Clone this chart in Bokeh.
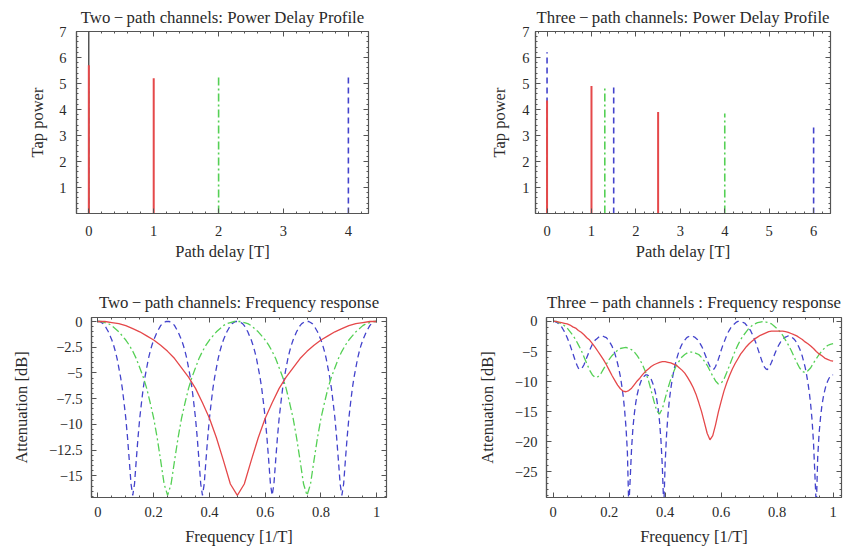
import numpy as np
from bokeh.plotting import figure
from bokeh.layouts import column, row
from bokeh.models import FixedTicker, LinearAxis, Range1d, Span, CustomJSTickFormatter
from bokeh.embed import file_html
from bokeh.resources import INLINE

# ---------------- data ----------------
# Power delay profiles (tap delay [T], tap power)
pdp2_red_delay = [0, 1]
pdp2_red_power = [5.7, 5.2]
pdp2_green_delay = [0, 2]
pdp2_green_power = [5.3, 5.3]
pdp2_blue_delay = [0, 4]
pdp2_blue_power = [4.7, 5.3]

pdp3_red_delay = [0, 1, 2.5]
pdp3_red_power = [4.35, 4.9, 3.9]
pdp3_green_delay = [0, 1.3, 4]
pdp3_green_power = [3.1, 4.9, 3.85]
pdp3_blue_delay = [0, 1.5, 6]
pdp3_blue_power = [6.2, 4.85, 3.4]

# Two-path frequency responses [dB]
freq2_red = np.linspace(0, 1, 41)
att2_red = [0.0, 0.0, -0.1, -0.2, -0.4, -0.7, -1.0, -1.4, -1.8, -2.3, -2.9, -3.6, -4.5, -5.4, -6.5, -7.9, -9.4, -11.3, -13.5, -15.8, -16.9,
            -15.8, -13.5, -11.3, -9.4, -7.9, -6.5, -5.4, -4.5, -3.6, -2.9, -2.3, -1.8, -1.4, -1.0, -0.7, -0.4, -0.2, -0.1, 0.0, 0.0]
freq2_green = np.linspace(0, 1, 81)
att2_green = [0.0, 0.0, -0.1, -0.2, -0.4, -0.7, -1.0, -1.4, -1.8, -2.3, -2.9, -3.6, -4.5, -5.4, -6.5, -7.9, -9.4, -11.3, -13.5, -15.8, -16.9,
              -15.8, -13.5, -11.3, -9.4, -7.9, -6.5, -5.4, -4.5, -3.6, -2.9, -2.3, -1.8, -1.4, -1.0, -0.7, -0.4, -0.2, -0.1, 0.0, 0.0,
              0.0, -0.1, -0.2, -0.4, -0.7, -1.0, -1.4, -1.8, -2.3, -2.9, -3.6, -4.5, -5.4, -6.5, -7.9, -9.4, -11.3, -13.5, -15.8, -16.9,
              -15.8, -13.5, -11.3, -9.4, -7.9, -6.5, -5.4, -4.5, -3.6, -2.9, -2.3, -1.8, -1.4, -1.0, -0.7, -0.4, -0.2, -0.1, 0.0, 0.0]
freq2_blue = np.linspace(0, 1, 161)
att2_blue = [0.0, 0.0, -0.1, -0.2, -0.4, -0.7, -1.0, -1.4, -1.8, -2.3, -2.9, -3.6, -4.5, -5.4, -6.5, -7.9, -9.4, -11.3, -13.5, -15.8, -16.9,
             -15.8, -13.5, -11.3, -9.4, -7.9, -6.5, -5.4, -4.5, -3.6, -2.9, -2.3, -1.8, -1.4, -1.0, -0.7, -0.4, -0.2, -0.1, 0.0, 0.0,
             0.0, -0.1, -0.2, -0.4, -0.7, -1.0, -1.4, -1.8, -2.3, -2.9, -3.6, -4.5, -5.4, -6.5, -7.9, -9.4, -11.3, -13.5, -15.8, -16.9,
             -15.8, -13.5, -11.3, -9.4, -7.9, -6.5, -5.4, -4.5, -3.6, -2.9, -2.3, -1.8, -1.4, -1.0, -0.7, -0.4, -0.2, -0.1, 0.0, 0.0,
             0.0, -0.1, -0.2, -0.4, -0.7, -1.0, -1.4, -1.8, -2.3, -2.9, -3.6, -4.5, -5.4, -6.5, -7.9, -9.4, -11.3, -13.5, -15.8, -16.9,
             -15.8, -13.5, -11.3, -9.4, -7.9, -6.5, -5.4, -4.5, -3.6, -2.9, -2.3, -1.8, -1.4, -1.0, -0.7, -0.4, -0.2, -0.1, 0.0, 0.0,
             0.0, -0.1, -0.2, -0.4, -0.7, -1.0, -1.4, -1.8, -2.3, -2.9, -3.6, -4.5, -5.4, -6.5, -7.9, -9.4, -11.3, -13.5, -15.8, -16.9,
             -15.8, -13.5, -11.3, -9.4, -7.9, -6.5, -5.4, -4.5, -3.6, -2.9, -2.3, -1.8, -1.4, -1.0, -0.7, -0.4, -0.2, -0.1, 0.0, 0.0]

# Three-path frequency responses [dB]
freq3_red = np.linspace(0, 1, 101)
att3_red = [0.0, 0.0, -0.1, -0.2, -0.3, -0.4, -0.6, -0.9, -1.1, -1.5, -1.8, -2.2, -2.7, -3.1, -3.7, -4.3, -5.0, -5.7, -6.4, -7.2, -8.1, -9.0, -9.8, -10.6,
            -11.2, -11.6, -11.7, -11.5, -11.1, -10.5, -9.9, -9.4, -8.8, -8.3, -7.9, -7.5, -7.2, -7.0, -6.8, -6.7, -6.7, -6.8, -6.9, -7.1, -7.3, -7.7, -8.1,
            -8.6, -9.3, -10.1, -11.0, -12.1, -13.5, -15.0, -16.8, -18.6, -19.7, -19.0, -17.2, -15.1, -13.3, -11.6, -10.2, -9.0, -7.9, -7.0, -6.2, -5.4,
            -4.8, -4.2, -3.7, -3.3, -2.9, -2.6, -2.3, -2.1, -1.9, -1.7, -1.6, -1.6, -1.6, -1.6, -1.6, -1.7, -1.8, -2.0, -2.2, -2.4, -2.7, -3.0, -3.4, -3.7,
            -4.1, -4.5, -5.0, -5.4, -5.7, -6.1, -6.3, -6.5, -6.6]
freq3_green = np.linspace(0, 1, 101)
att3_green = [0.0, 0.0, -0.2, -0.4, -0.7, -1.1, -1.7, -2.3, -3.0, -3.9, -4.8, -5.9, -7.0, -8.1, -8.9, -9.3, -9.2, -8.7, -7.9, -7.1, -6.3, -5.7, -5.2, -4.8,
              -4.5, -4.4, -4.3, -4.5, -4.7, -5.1, -5.7, -6.4, -7.3, -8.4, -9.8, -11.5, -13.3, -14.9, -15.4, -14.5, -12.8, -11.1, -9.6, -8.4, -7.3, -6.6, -5.9,
              -5.5, -5.2, -5.1, -5.1, -5.3, -5.5, -6.0, -6.6, -7.3, -8.2, -9.1, -9.9, -10.4, -10.3, -9.6, -8.5, -7.3, -6.1, -4.9, -3.9, -3.0, -2.3, -1.7, -1.1,
              -0.7, -0.4, -0.2, -0.1, 0.0, -0.1, -0.2, -0.4, -0.8, -1.2, -1.7, -2.3, -3.1, -3.9, -4.8, -5.8, -6.8, -7.7, -8.3, -8.5, -8.2, -7.7, -6.9, -6.2,
              -5.5, -4.9, -4.4, -4.0, -3.8, -3.7]
freq3_blue = np.linspace(0, 1, 201)
att3_blue = [0.0, 0.0, -0.1, -0.2, -0.4, -0.6, -0.9, -1.3, -1.7, -2.2, -2.7, -3.3, -3.9, -4.6, -5.3, -6.0, -6.7, -7.3, -7.8, -8.0, -7.9, -7.6, -7.2, -6.6,
             -6.0, -5.4, -4.8, -4.3, -3.8, -3.5, -3.1, -2.9, -2.7, -2.5, -2.4, -2.4, -2.5, -2.6, -2.7, -3.0, -3.3, -3.7, -4.1, -4.7, -5.3, -6.1, -7.0, -8.0,
             -9.2, -10.7, -12.4, -14.7, -17.6, -21.7, -31.0, -26.2, -21.1, -17.6, -15.3, -13.5, -12.2, -11.2, -10.4, -9.8, -9.3, -9.1, -8.9, -8.9, -9.0,
             -9.2, -9.6, -10.2, -10.9, -11.8, -13.0, -14.6, -16.7, -19.8, -24.3, -31.0, -23.5, -18.8, -15.5, -13.1, -11.2, -9.7, -8.4, -7.3, -6.4, -5.6,
             -4.9, -4.3, -3.8, -3.4, -3.1, -2.8, -2.6, -2.5, -2.4, -2.4, -2.5, -2.6, -2.8, -3.0, -3.3, -3.7, -4.1, -4.6, -5.2, -5.8, -6.4, -7.0, -7.5, -7.8,
             -8.0, -7.9, -7.5, -6.9, -6.3, -5.6, -4.8, -4.1, -3.5, -2.9, -2.3, -1.8, -1.4, -1.0, -0.7, -0.5, -0.3, -0.1, 0.0, 0.0, 0.0, -0.1, -0.2, -0.3,
             -0.6, -0.8, -1.2, -1.5, -2.0, -2.5, -3.1, -3.7, -4.4, -5.1, -5.8, -6.5, -7.1, -7.6, -7.9, -8.0, -7.7, -7.3, -6.8, -6.2, -5.6, -5.0, -4.5, -4.0,
             -3.6, -3.2, -2.9, -2.7, -2.6, -2.5, -2.4, -2.4, -2.5, -2.7, -2.9, -3.2, -3.5, -4.0, -4.5, -5.1, -5.8, -6.7, -7.6, -8.8, -10.2, -11.8, -13.9,
             -16.5, -20.2, -25.5, -31.0, -22.6, -18.6, -16.0, -14.0, -12.6, -11.5, -10.6, -10.0, -9.5, -9.1, -8.9, -8.9]

# ticks and labels
pdp_y_ticks = [1, 2, 3, 4, 5, 6, 7]
pdp2_x_ticks = [0, 1, 2, 3, 4]
pdp3_x_ticks = [0, 1, 2, 3, 4, 5, 6]
freq_x_ticks = [0, 0.2, 0.4, 0.6, 0.8, 1]
freq_x_labels = ["0", "0.2", "0.4", "0.6", "0.8", "1"]
fr2_y_ticks = [0, -2.5, -5, -7.5, -10, -12.5, -15]
fr2_y_labels = ["0", "\u22122.5", "\u22125", "\u22127.5", "\u221210", "\u221212.5", "\u221215"]
fr3_y_ticks = [0, -5, -10, -15, -20, -25]
fr3_y_labels = ["0", "\u22125", "\u221210", "\u221215", "\u221220", "\u221225"]

# ---------------- styling ----------------
FONT = "Liberation Serif"
RED = "#e5484a"
GREEN = "#55d055"
BLUE = "#4343cc"
TXT = "#2a2a2a"
FRAME = "#555555"
DASH_G = "8 3 2 3"
DASH_B = "6 4"


def make_fig(width, height, lb, rb, tb, bb, xr, yr, title, xlabel, ylabel,
             xticks, xminor, yticks, yminor, xlabels=None, ylabels=None,
             ylab_standoff=10, ylab_sep=10, xlab_standoff=12, xlab_sep=3, title_standoff=12):
    p = figure(width=width, height=height, x_range=Range1d(*xr), y_range=Range1d(*yr),
               output_backend="svg", toolbar_location=None,
               min_border_left=lb, min_border_right=rb, min_border_top=tb, min_border_bottom=bb,
               title=title)
    p.grid.visible = False
    p.outline_line_color = FRAME
    p.outline_line_width = 1.2
    p.title.text_font = FONT
    p.title.text_font_size = "16.8px"
    p.title.text_font_style = "normal"
    p.title.text_color = TXT
    p.title.align = "center"
    p.title.standoff = title_standoff

    xt = FixedTicker(ticks=xticks, minor_ticks=list(xminor))
    yt = FixedTicker(ticks=yticks, minor_ticks=list(yminor))
    ax_x = p.xaxis[0]
    ax_y = p.yaxis[0]
    ax_x.ticker = xt
    ax_y.ticker = yt
    ax_x.axis_label = xlabel
    ax_y.axis_label = ylabel
    if xlabels is not None:
        ax_x.major_label_overrides = {t: s for t, s in zip(xticks, xlabels)}
    if ylabels is not None:
        ax_y.major_label_overrides = {t: s for t, s in zip(yticks, ylabels)}
    for ax in (ax_x, ax_y):
        ax.axis_line_color = FRAME
        ax.axis_line_width = 1.2
        ax.major_tick_in = 5
        ax.major_tick_out = 0
        ax.minor_tick_in = 2
        ax.minor_tick_out = 0
        ax.major_tick_line_color = FRAME
        ax.minor_tick_line_color = FRAME
        ax.major_label_text_font = FONT
        ax.major_label_text_font_size = "14.5px"
        ax.major_label_text_color = TXT
        ax.axis_label_text_font = FONT
        ax.axis_label_text_font_size = "16.5px"
        ax.axis_label_text_font_style = "normal"
        ax.axis_label_text_color = TXT
    ax_y.major_label_standoff = ylab_standoff
    ax_y.axis_label_standoff = ylab_sep
    ax_x.major_label_standoff = xlab_standoff
    ax_x.axis_label_standoff = xlab_sep

    # mirrored ticks on the top and right frame edges
    for side, tk in (("above", xt), ("right", yt)):
        ax = LinearAxis(ticker=tk, formatter=CustomJSTickFormatter(code="return ''"),
                        major_label_text_font_size="0px", major_label_standoff=0,
                        axis_line_color=None, major_tick_in=5, major_tick_out=0,
                        minor_tick_in=2, minor_tick_out=0,
                        major_tick_line_color=FRAME, minor_tick_line_color=FRAME)
        p.add_layout(ax, side)
    return p


def spikes(p, delay, power, color, dash, width):
    p.segment(x0=delay, y0=[0] * len(delay), x1=delay, y1=power,
              line_color=color, line_width=width, line_dash=dash)


# ---------------- panel 1 ----------------
p1 = make_fig(428, 278, 76, 60, 31, 65, (-0.19, 4.31), (0, 7),
              "Two\u2009\u2212\u2009path channels: Power Delay Profile", "Path delay [T]", "Tap power",
              pdp2_x_ticks, np.arange(-0.2, 4.31, 0.2), pdp_y_ticks, np.arange(0, 7.01, 0.2),
              ylab_standoff=10, ylab_sep=9, title_standoff=9)
p1.add_layout(Span(location=0, dimension="height", line_color="black", line_width=1, level="underlay"))
spikes(p1, pdp2_blue_delay, pdp2_blue_power, BLUE, DASH_B, 1.6)
spikes(p1, pdp2_green_delay, pdp2_green_power, GREEN, DASH_G, 1.6)
spikes(p1, pdp2_red_delay, pdp2_red_power, RED, "solid", 2)

# ---------------- panel 2 ----------------
p2 = make_fig(424, 278, 107, 22, 31, 65, (-0.26, 6.38), (0, 7),
              "Three\u2009\u2212\u2009path channels: Power Delay Profile", "Path delay [T]", "Tap power",
              pdp3_x_ticks, np.arange(-0.2, 6.41, 0.2), pdp_y_ticks, np.arange(0, 7.01, 0.2),
              ylab_standoff=6, ylab_sep=10, title_standoff=9)
spikes(p2, pdp3_blue_delay, pdp3_blue_power, BLUE, DASH_B, 1.6)
spikes(p2, pdp3_green_delay, pdp3_green_power, GREEN, DASH_G, 1.6)
spikes(p2, pdp3_red_delay, pdp3_red_power, RED, "solid", 2)

# ---------------- panel 3 ----------------
p3 = make_fig(428, 270, 91, 42, 39, 51, (-0.023, 1.035), (-17.11, 0.39),
              "Two\u2009\u2212\u2009path channels: Frequency response", "Frequency [1/T]", "Attenuation [dB]",
              freq_x_ticks, np.arange(0, 1.001, 0.05), fr2_y_ticks, np.arange(-17, 0.01, 0.5),
              xlabels=freq_x_labels, ylabels=fr2_y_labels,
              ylab_standoff=9, ylab_sep=15, xlab_standoff=9, xlab_sep=7)
p3.line(freq2_blue, att2_blue, line_color=BLUE, line_width=1.3, line_dash=DASH_B)
p3.line(freq2_green, att2_green, line_color=GREEN, line_width=1.3, line_dash=DASH_G)
p3.line(freq2_red, att2_red, line_color=RED, line_width=1.3)

# ---------------- panel 4 ----------------
p4 = make_fig(424, 270, 118, 11, 39, 51, (-0.024, 1.030), (-29.3, 0.66),
              "Three\u2009\u2212\u2009path channels : Frequency response", "Frequency [1/T]", "Attenuation [dB]",
              freq_x_ticks, np.arange(0, 1.001, 0.05), fr3_y_ticks, np.arange(-29, 0.01, 1),
              xlabels=freq_x_labels, ylabels=fr3_y_labels,
              ylab_standoff=9, ylab_sep=15, xlab_standoff=9, xlab_sep=7)
p4.line(freq3_blue, att3_blue, line_color=BLUE, line_width=1.3, line_dash=DASH_B)
p4.line(freq3_green, att3_green, line_color=GREEN, line_width=1.3, line_dash=DASH_G)
p4.line(freq3_red, att3_red, line_color=RED, line_width=1.3)

layout = column(row(p1, p2), row(p3, p4))
open("out.html", "w").write(file_html(layout, INLINE))
